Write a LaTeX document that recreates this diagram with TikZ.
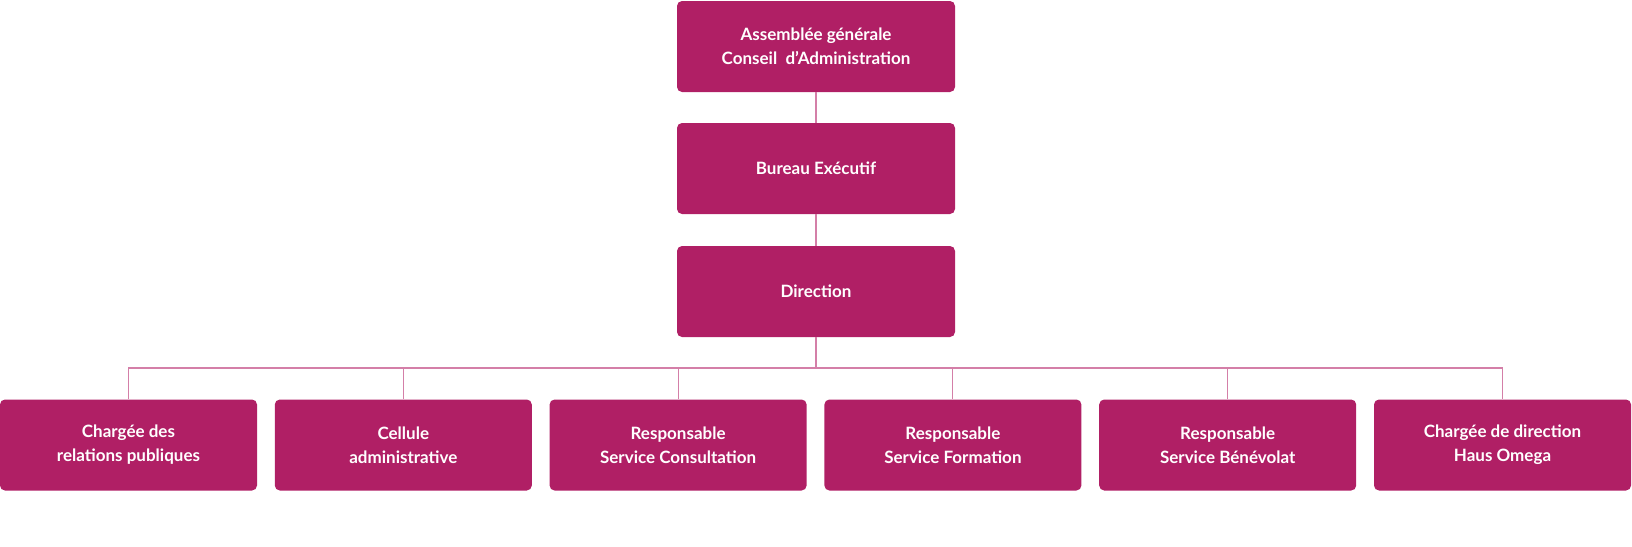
\documentclass[tikz,border=0pt]{standalone}
\usepackage{fontspec}
\setmainfont{Lato}
\definecolor{mag}{HTML}{B01F65}
\definecolor{ln}{HTML}{D47FA8}
\begin{document}
\begin{tikzpicture}[x=1pt,y=-1pt,
 box/.style={fill=mag,rounded corners=5pt,text=white,align=center,font=\fontsize{17}{24}\selectfont\bfseries,inner sep=0pt},
 con/.style={draw=ln,line width=1.1pt}]
\useasboundingbox (0,0) rectangle (1632,546);
\node[box,minimum width=278pt,minimum height=91pt] (a) at (816,46.5) {Assemblée générale\\Conseil\ \ d’Administration};
\node[box,minimum width=278pt,minimum height=91pt] (b) at (816,168.5) {Bureau Exécutif};
\node[box,minimum width=278pt,minimum height=91pt] (c) at (816,291.5) {Direction};
\foreach \i/\t in {0/{Chargée des\\relations publiques},1/{Cellule\\administrative},2/{Responsable\\Service Consultation},3/{Responsable\\Service Formation},4/{Responsable\\Service Bénévolat},5/{Chargée de direction\\Haus Omega}}{
 \node[box,minimum width=257pt,minimum height=91pt] (d\i) at (128.5+274.8*\i,445) {\t};
}
\draw[con] (a) -- (b);
\draw[con] (b) -- (c);
\coordinate (h) at (816,368);
\draw[con] (c.south) -- (h);
\draw[con] (d0.north) |- (h) -| (d5.north);
\foreach \i in {1,2,3,4}{\draw[con] (d\i.north) -- (d\i.north |- h);}
\end{tikzpicture}
\end{document}
